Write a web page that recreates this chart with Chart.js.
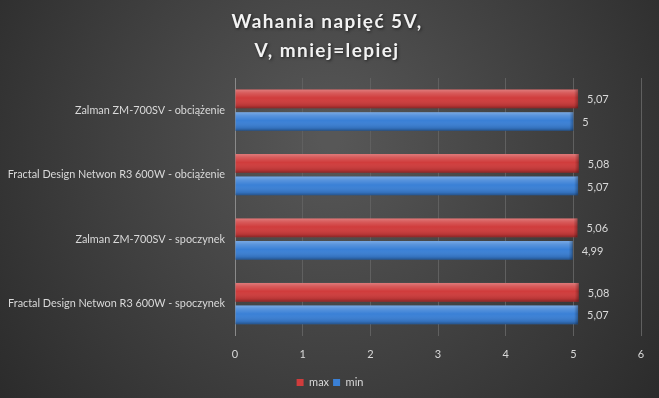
<!DOCTYPE html>
<html>
<head>
<meta charset="utf-8">
<script src="https://cdn.jsdelivr.net/npm/chart.js@4/dist/chart.umd.min.js"></script>
<style>
html,body{margin:0;padding:0;background:#3a3a3a;}
#wrap{width:659px;height:398px;position:relative;}
</style>
</head>
<body>
<div id="wrap"><canvas id="c" width="659" height="398"></canvas></div>
<script>
const categories = [
  "Zalman ZM-700SV - obciążenie",
  "Fractal Design Netwon R3 600W - obciążenie",
  "Zalman ZM-700SV - spoczynek",
  "Fractal Design Netwon R3 600W - spoczynek"
];
const maxValues = [5.07, 5.08, 5.06, 5.08];
const minValues = [5.00, 5.07, 4.99, 5.07];
const seriesNames = ["max", "min"];
const titleLines = ["Wahania napięć 5V,", "V, mniej=lepiej"];
const xTicks = [0, 1, 2, 3, 4, 5, 6];

const FONT = "Lato, 'Open Sans', sans-serif";
const TXT = "#d9d9d9";

const bgPlugin = {
  id: "bg",
  beforeDraw(chart) {
    const ctx = chart.ctx, w = chart.width, h = chart.height;
    ctx.save();
    const g = ctx.createRadialGradient(w * 0.5, h * 0.35, 10, w * 0.5, h * 0.4, w * 0.62);
    g.addColorStop(0, "#575757");
    g.addColorStop(1, "#2b2b2b");
    ctx.fillStyle = g;
    ctx.fillRect(0, 0, w, h);
    ctx.restore();
  }
};

const shadePlugin = {
  id: "shade",
  afterDatasetsDraw(chart) {
    const ctx = chart.ctx;
    ctx.save();
    chart.data.datasets.forEach((ds, di) => {
      const meta = chart.getDatasetMeta(di);
      meta.data.forEach((el) => {
        const p = el.getProps(["x", "y", "base", "height"], true);
        const top = p.y - p.height / 2;
        const g = ctx.createLinearGradient(0, top, 0, top + p.height);
        g.addColorStop(0, "rgba(255,255,255,0.32)");
        g.addColorStop(0.18, "rgba(255,255,255,0.16)");
        g.addColorStop(0.45, "rgba(255,255,255,0.0)");
        g.addColorStop(0.85, "rgba(0,0,0,0.12)");
        g.addColorStop(1, "rgba(0,0,0,0.35)");
        ctx.fillStyle = g;
        ctx.fillRect(p.base, top, p.x - p.base, p.height);
        const eg = ctx.createLinearGradient(p.x - 4, 0, p.x, 0);
        eg.addColorStop(0, "rgba(0,0,0,0)");
        eg.addColorStop(1, "rgba(0,0,0,0.3)");
        ctx.fillStyle = eg;
        ctx.fillRect(p.x - 4, top, 4, p.height);
      });
    });
    ctx.restore();
  }
};

const labelPlugin = {
  id: "vlabels",
  afterDatasetsDraw(chart) {
    const ctx = chart.ctx;
    ctx.save();
    ctx.font = "11px " + FONT;
    ctx.fillStyle = TXT;
    ctx.textAlign = "left";
    ctx.textBaseline = "middle";
    chart.data.datasets.forEach((ds, di) => {
      const meta = chart.getDatasetMeta(di);
      meta.data.forEach((el, i) => {
        const s = String(ds.data[i]).replace(".", ",");
        ctx.fillText(s, el.x + 9, el.y + 1);
      });
    });
    ctx.restore();
  }
};

const chart = new Chart(document.getElementById("c"), {
  type: "bar",
  data: {
    labels: categories,
    datasets: [
      { label: seriesNames[0], data: maxValues, backgroundColor: "#d03c3c", borderWidth: 0 },
      { label: seriesNames[1], data: minValues, backgroundColor: "#3a80d6", borderWidth: 0 }
    ]
  },
  options: {
    indexAxis: "y",
    responsive: false,
    animation: false,
    devicePixelRatio: 1,
    categoryPercentage: 0.7,
    barPercentage: 0.83,
    layout: { padding: { top: 6, left: 5, right: 18, bottom: 0 } },
    scales: {
      x: {
        min: 0, max: 6,
        afterBuildTicks(scale) { scale.ticks = xTicks.map(v => ({ value: v })); },
        ticks: { color: TXT, font: { family: FONT, size: 11 }, padding: 12 },
        grid: { color: "#606060", drawTicks: false, lineWidth: 1 },
        border: { display: false }
      },
      y: {
        ticks: { color: TXT, font: { family: FONT, size: 10.85 }, padding: 10 },
        grid: { display: false, drawTicks: false },
        border: { display: true, color: "#8a8a8a", width: 1 },
        afterFit(scale) { scale.width = 230; }
      }
    },
    plugins: {
      title: {
        display: true,
        text: titleLines,
        color: "#f2f2f2",
        font: { family: FONT, size: 19, weight: "bold", lineHeight: 1.5 },
        padding: { top: 2, bottom: 13 }
      },
      legend: {
        position: "bottom",
        labels: {
          color: TXT,
          font: { family: FONT, size: 11 },
          boxWidth: 7, boxHeight: 7, padding: 4
        }
      },
      tooltip: { enabled: false }
    }
  },
  plugins: [bgPlugin, shadePlugin, labelPlugin]
});

// title letter spacing + soft shadow, nudged to match centring
const tb = chart.titleBlock;
const origTitleDraw = tb.draw.bind(tb);
tb.draw = function () {
  const ctx = chart.ctx;
  ctx.save();
  ctx.translate(4, 0);
  ctx.letterSpacing = "1.4px";
  ctx.shadowColor = "rgba(0,0,0,0.6)";
  ctx.shadowBlur = 3;
  ctx.shadowOffsetX = 1;
  ctx.shadowOffsetY = 1;
  origTitleDraw();
  ctx.restore();
};
const lg = chart.legend;
const origLegendDraw = lg.draw.bind(lg);
lg.draw = function () {
  const ctx = chart.ctx;
  ctx.save();
  ctx.translate(7, 0);
  origLegendDraw();
  ctx.restore();
};
chart.draw();
</script>
</body>
</html>
